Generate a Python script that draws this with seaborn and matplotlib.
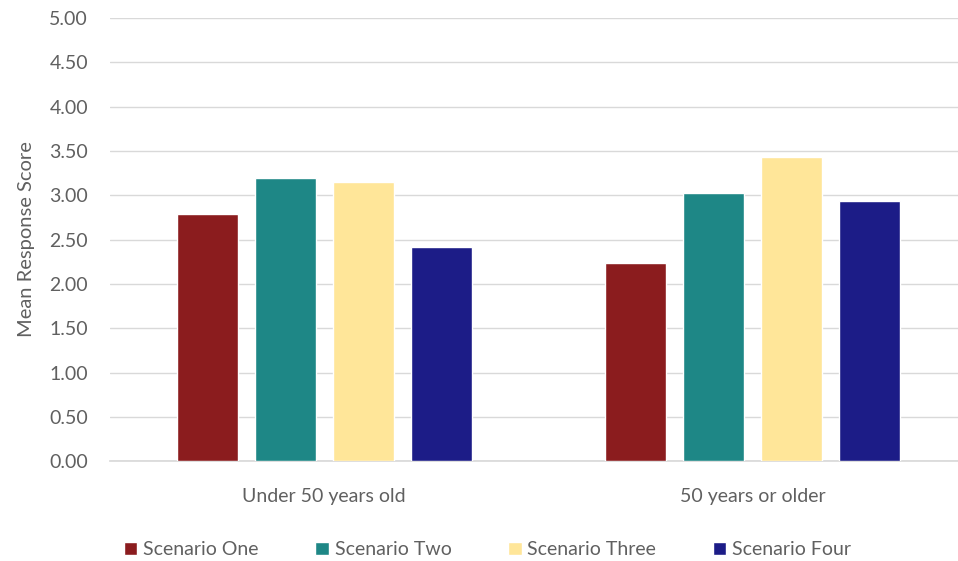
import matplotlib
matplotlib.use('Agg')
import matplotlib.pyplot as plt
import seaborn as sns
import pandas as pd

# chart values
groups = ['Under 50 years old', '50 years or older']
scenarios = ['Scenario One', 'Scenario Two', 'Scenario Three', 'Scenario Four']
under_50 = [2.79, 3.20, 3.15, 2.42]
over_50 = [2.23, 3.02, 3.43, 2.94]
colors = ['#8B1C1E', '#1E8786', '#FFE699', '#1C1C87']

df = pd.DataFrame({
    'group': [groups[0]] * 4 + [groups[1]] * 4,
    'scenario': scenarios * 2,
    'score': under_50 + over_50,
})

sns.set_theme(style='white')
plt.rcParams['font.family'] = ['Lato', 'DejaVu Sans']
grey = '#606060'

fig = plt.figure(figsize=(9.58, 5.61), dpi=100)
ax = fig.add_axes([0.115, 0.178, 0.885, 0.79])

sns.barplot(data=df, x='group', y='score', hue='scenario', order=groups,
            hue_order=scenarios, palette=colors, width=0.73, gap=0.22,
            ax=ax, errorbar=None, saturation=1, zorder=3)

ax.set_ylim(0, 5)
ax.set_yticks([i * 0.5 for i in range(11)])
ax.set_yticklabels([f'{i * 0.5:.2f}' for i in range(11)])
ax.set_xlim(-0.5, 1.48)
ax.yaxis.grid(True, color='#D9D9D9', linewidth=1, zorder=0)
for s in ['top', 'right', 'left']:
    ax.spines[s].set_visible(False)
ax.spines['bottom'].set_color('#D9D9D9')
ax.tick_params(axis='both', colors=grey, labelsize=14, length=0)
ax.tick_params(axis='x', pad=19)
ax.tick_params(axis='y', pad=16)
ax.set_xlabel('')
ax.set_ylabel('Mean Response Score', color=grey, fontsize=14.5, labelpad=10)

ax.legend(loc='center', bbox_to_anchor=(0.445, -0.2), ncol=4, frameon=False,
          fontsize=14, labelcolor=grey, handlelength=0.7, handleheight=0.7,
          handletextpad=0.3, columnspacing=2.9)

fig.savefig('out.png', dpi=100)
